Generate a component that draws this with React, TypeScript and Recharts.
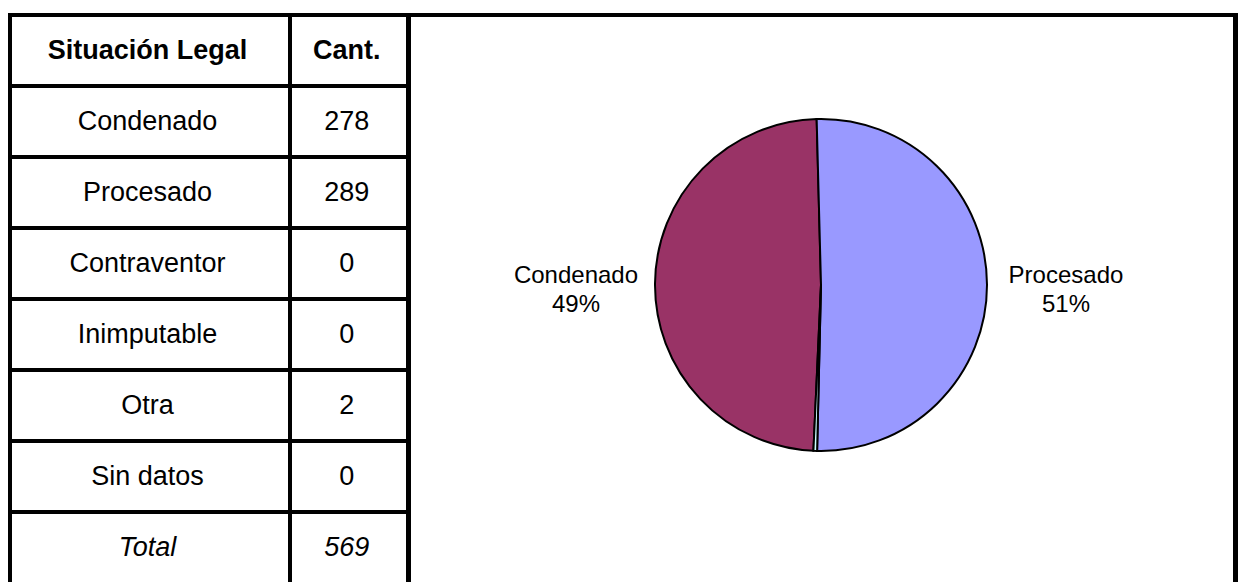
import { Pie, PieChart, Cell } from "recharts";

const categories = ["Condenado", "Procesado", "Contraventor", "Inimputable", "Otra", "Sin datos"];
const counts = [278, 289, 0, 0, 2, 0];
const sliceColors = ["#993366", "#9999FF", "#FFFFCC", "#CCFFFF", "#CCFFFF", "#FF8080"];
const headers = ["Situación Legal", "Cant."];
const totalLabel = "Total";

const FONT = "'Liberation Sans', Arial, sans-serif";
const LINE = 4.5;
const ROW_H = 71;
const TOP = 12.5;
const COL_X = [7.5, 287.5, 406];
const RIGHT_X = 1233;

const total = counts.reduce((a, b) => a + b, 0);
const data = categories.map((name, i) => ({ name, value: counts[i] }));
// Excel puts the first slice so the second one starts near 12 o'clock
const startAngle = -268.5 + (360 * counts[0]) / total;

const RAD = Math.PI / 180;

function SliceLabel(props: any) {
  const { cx, cy, midAngle, outerRadius, percent, name } = props;
  if (percent < 0.01) return null;
  const r = outerRadius + 79;
  const x = cx + r * Math.cos(-midAngle * RAD);
  const y = cy + 3;
  return (
    <text x={x} y={y} textAnchor="middle" fontFamily={FONT} fontSize={24} fill="#000">
      <tspan x={x} dy={-5}>{name}</tspan>
      <tspan x={x} dy={29}>{`${Math.round(percent * 100)}%`}</tspan>
    </text>
  );
}

function Cell2({ left, width, top, children, style }: any) {
  return (
    <div
      style={{
        position: "absolute",
        left,
        top: top + 2,
        width,
        height: ROW_H,
        display: "flex",
        alignItems: "center",
        justifyContent: "center",
        fontFamily: FONT,
        fontSize: 27,
        color: "#000",
        ...style,
      }}
    >
      {children}
    </div>
  );
}

export default function App() {
  const rows = [...categories.map((c, i) => [c, String(counts[i])]), [totalLabel, String(total)]];
  const hLines = [0, 1, 2, 3, 4, 5, 6, 7].map((i) => TOP + i * ROW_H);
  return (
    <div style={{ position: "absolute", left: 0, top: 0, width: 1240, height: 582, background: "#fff", overflow: "hidden" }}>
      {/* header */}
      <Cell2 left={COL_X[0]} width={COL_X[1] - COL_X[0]} top={TOP} style={{ fontWeight: "bold" }}>
        {headers[0]}
      </Cell2>
      <Cell2 left={COL_X[1]} width={COL_X[2] - COL_X[1]} top={TOP} style={{ fontWeight: "bold" }}>
        {headers[1]}
      </Cell2>
      {rows.map((r, i) => {
        const italic = i === rows.length - 1 ? { fontStyle: "italic" } : {};
        return [
          <Cell2 key={`a${i}`} left={COL_X[0]} width={COL_X[1] - COL_X[0]} top={TOP + (i + 1) * ROW_H} style={italic}>
            {r[0]}
          </Cell2>,
          <Cell2 key={`b${i}`} left={COL_X[1]} width={COL_X[2] - COL_X[1]} top={TOP + (i + 1) * ROW_H} style={italic}>
            {r[1]}
          </Cell2>,
        ];
      })}
      {/* grid lines */}
      {hLines.map((y, i) => (
        <div
          key={`h${i}`}
          style={{ position: "absolute", left: COL_X[0], top: y, width: (i === 0 ? RIGHT_X + LINE : COL_X[2] + LINE) - COL_X[0], height: LINE, background: "#000" }}
        />
      ))}
      {[...COL_X, RIGHT_X].map((x, i) => (
        <div key={`v${i}`} style={{ position: "absolute", left: x, top: TOP, width: LINE, height: 600, background: "#000" }} />
      ))}
      <div style={{ position: "absolute", left: COL_X[2] + LINE, top: TOP + LINE }}>
        <PieChart width={RIGHT_X - COL_X[2] - LINE} height={565} margin={{ top: 0, right: 0, bottom: 0, left: 0 }}>
          <Pie
            data={data}
            dataKey="value"
            nameKey="name"
            cx={410}
            cy={268}
            outerRadius={166}
            startAngle={startAngle}
            endAngle={startAngle - 360}
            stroke="#000"
            strokeWidth={2}
            label={SliceLabel}
            labelLine={false}
            isAnimationActive={false}
          >
            {data.map((d, i) => (
              <Cell key={d.name} fill={sliceColors[i]} />
            ))}
          </Pie>
        </PieChart>
      </div>
    </div>
  );
}
